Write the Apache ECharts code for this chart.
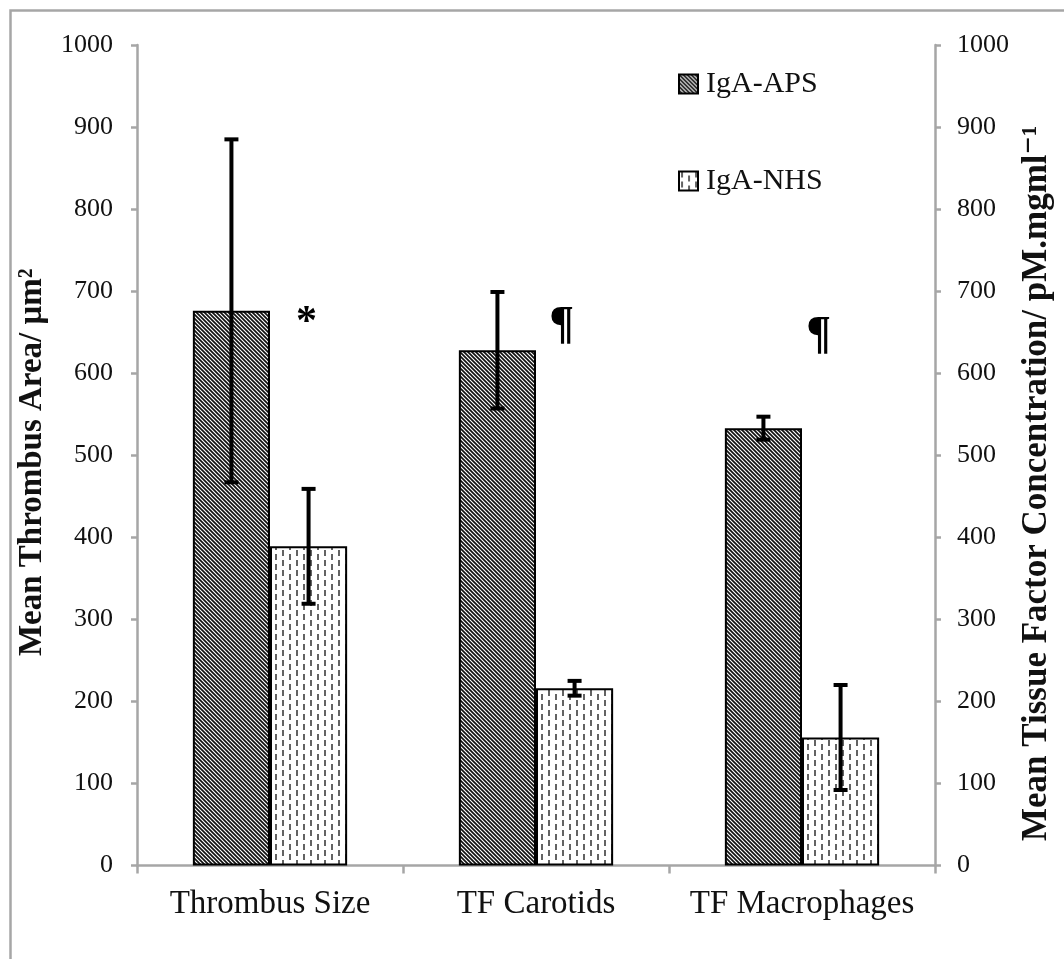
<!DOCTYPE html>
<html>
<head>
<meta charset="utf-8">
<script src="https://cdn.jsdelivr.net/npm/echarts@6/dist/echarts.min.js"></script>
<style>
html,body{margin:0;padding:0;background:#fff;}
#chart{width:1064px;height:959px;}
</style>
</head>
<body>
<div id="chart"></div>
<script>
// ---- data ----
const categories = ['Thrombus Size', 'TF Carotids', 'TF Macrophages'];
const seriesNames = ['IgA-APS', 'IgA-NHS'];
const apsValues = [676, 628, 533];
const apsErrors = [209, 71, 14];
const nhsValues = [389, 216, 156];
const nhsErrors = [70, 9, 64];
const markTexts = ['*', '¶', '¶'];
const markHeights = [661, 657, 645];
const yTicks = [0, 1000, 100]; // min, max, interval
const leftAxisTitle = 'Mean Thrombus Area/ μm²';
const rightAxisTitle = 'Mean Tissue Factor Concentration/ pM.mgml⁻¹';

// ---- patterns ----
function hatchPattern() {
  const c = document.createElement('canvas');
  c.width = 4; c.height = 4;
  const g = c.getContext('2d');
  g.fillStyle = '#ffffff'; g.fillRect(0, 0, 4, 4);
  g.strokeStyle = '#111'; g.lineWidth = 1.7;
  g.beginPath();
  g.moveTo(-1, -1); g.lineTo(5, 5);
  g.moveTo(-3, 1); g.lineTo(1, 5);
  g.moveTo(3, -1); g.lineTo(7, 3);
  g.stroke();
  return c;
}
function dashPattern() {
  const c = document.createElement('canvas');
  c.width = 14; c.height = 10;
  const g = c.getContext('2d');
  g.fillStyle = '#ffffff'; g.fillRect(0, 0, 14, 10);
  g.strokeStyle = '#222'; g.lineWidth = 1.4;
  g.beginPath();
  g.moveTo(3, 0); g.lineTo(3, 6);
  g.moveTo(10, 4); g.lineTo(10, 10);
  g.stroke();
  return c;
}
const apsFill = { image: hatchPattern(), repeat: 'repeat' };
const nhsFill = { image: dashPattern(), repeat: 'repeat' };

const BAR_FRAC = 0.29;
const FONT = '"Liberation Serif", "DejaVu Serif", serif';

function errorSeries(name, values, errors, side) {
  return {
    type: 'custom',
    name: name + '-err',
    z: 10,
    silent: true,
    data: values.map((v, i) => [i, v - errors[i], v + errors[i]]),
    renderItem: function (params, api) {
      const band = api.size([1, 0])[0];
      const off = side * band * BAR_FRAC / 2;
      const lo = api.coord([api.value(0), api.value(1)]);
      const hi = api.coord([api.value(0), api.value(2)]);
      const x = lo[0] + off;
      const cap = 7;
      const st = { stroke: '#000', lineWidth: 4 };
      return {
        type: 'group',
        children: [
          { type: 'line', shape: { x1: x, y1: lo[1], x2: x, y2: hi[1] }, style: st },
          { type: 'line', shape: { x1: x - cap, y1: hi[1], x2: x + cap, y2: hi[1] }, style: st },
          { type: 'line', shape: { x1: x - cap, y1: lo[1], x2: x + cap, y2: lo[1] }, style: st }
        ]
      };
    }
  };
}

const markOffsets = [-2, -13, -22];

const chart = echarts.init(document.getElementById('chart'));
chart.setOption({
  animation: false,
  backgroundColor: '#fff',
  textStyle: { fontFamily: FONT },
  graphic: [{
    type: 'rect', left: 8, top: 8, z: -1,
    shape: { width: 1200, height: 1100 },
    style: { fill: 'none', stroke: '#a6a6a6', lineWidth: 2.5 }
  }],
  grid: { left: 137, right: 129, top: 45, bottom: 93.5, containLabel: false },
  legend: {
    orient: 'vertical',
    left: 673, top: 64,
    icon: 'rect',
    itemWidth: 19, itemHeight: 19,
    itemGap: 67,
    data: seriesNames,
    itemStyle: { borderColor: '#000', borderWidth: 2 },
    textStyle: { fontFamily: FONT, fontSize: 30, color: '#111', padding: [0, 0, 0, 3] }
  },
  xAxis: {
    type: 'category',
    data: categories,
    axisLine: { lineStyle: { color: '#a6a6a6', width: 2.5 } },
    axisTick: { show: true, length: 8, lineStyle: { color: '#a6a6a6', width: 2.5 } },
    axisLabel: { fontFamily: FONT, fontSize: 33, color: '#111', margin: 22, interval: 0, hideOverlap: false }
  },
  yAxis: [{
    type: 'value', min: yTicks[0], max: yTicks[1], interval: yTicks[2],
    position: 'left',
    name: leftAxisTitle,
    nameLocation: 'middle', nameGap: 88, nameRotate: 90,
    nameTextStyle: { fontFamily: FONT, fontSize: 33, fontWeight: 'bold', color: '#111', padding: [0, 14, 0, 0] },
    splitLine: { show: false },
    axisLine: { show: true, lineStyle: { color: '#a6a6a6', width: 2.5 } },
    axisTick: { show: true, length: 6, lineStyle: { color: '#a6a6a6', width: 2.5 } },
    axisLabel: { fontFamily: FONT, fontSize: 26, color: '#111', margin: 24, formatter: v => String(v) }
  }, {
    type: 'value', min: yTicks[0], max: yTicks[1], interval: yTicks[2],
    position: 'right',
    name: rightAxisTitle,
    nameLocation: 'middle', nameGap: 83, nameRotate: 90,
    nameTextStyle: { fontFamily: FONT, fontSize: 35, fontWeight: 'bold', color: '#111', padding: [0, 56, 0, 0] },
    splitLine: { show: false },
    axisLine: { show: true, lineStyle: { color: '#a6a6a6', width: 2.5 } },
    axisTick: { show: true, length: 6, lineStyle: { color: '#a6a6a6', width: 2.5 } },
    axisLabel: { fontFamily: FONT, fontSize: 26, color: '#111', margin: 22, formatter: v => String(v) }
  }],
  series: [{
    type: 'bar', name: seriesNames[0], data: apsValues,
    barWidth: (BAR_FRAC * 100) + '%', barGap: '0%',
    itemStyle: { color: apsFill, borderColor: '#000', borderWidth: 2 }
  }, {
    type: 'bar', name: seriesNames[1], data: nhsValues,
    barWidth: (BAR_FRAC * 100) + '%', barGap: '0%',
    itemStyle: { color: nhsFill, borderColor: '#000', borderWidth: 2 }
  },
  errorSeries(seriesNames[0], apsValues, apsErrors, -1),
  errorSeries(seriesNames[1], nhsValues, nhsErrors, 1),
  {
    type: 'custom', name: 'marks', z: 11, silent: true,
    data: markHeights.map((h, i) => [i, h, markTexts[i]]),
    renderItem: function (params, api) {
      const i = params.dataIndex;
      const band = api.size([1, 0])[0];
      const p = api.coord([api.value(0), api.value(1)]);
      const txt = markTexts[i];
      return {
        type: 'text',
        style: {
          x: p[0] + band * BAR_FRAC / 2 + markOffsets[i],
          y: p[1],
          text: txt,
          fill: '#000',
          font: 'bold ' + (txt === '*' ? 42 : 46) + 'px ' + FONT,
          align: 'center',
          verticalAlign: 'middle'
        }
      };
    }
  }]
});
</script>
</body>
</html>
